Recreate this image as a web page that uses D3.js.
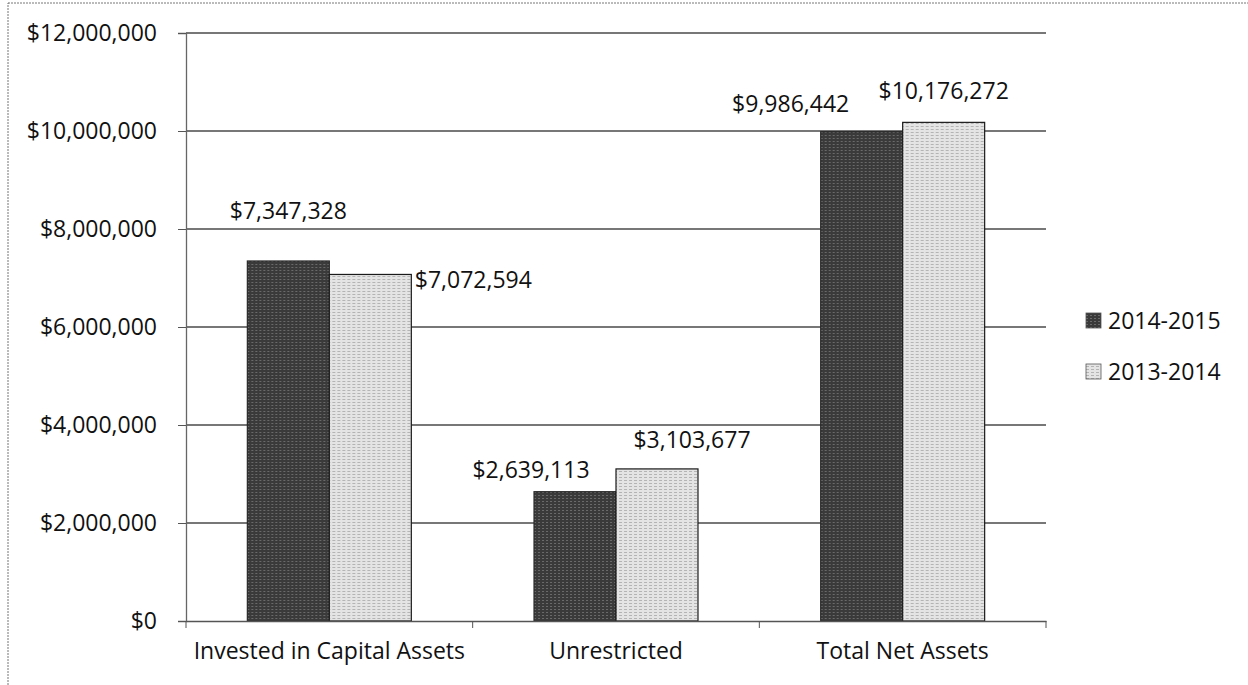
<!DOCTYPE html>
<html>
<head>
<meta charset="utf-8">
<script src="https://cdn.jsdelivr.net/npm/d3@7"></script>
<style>
  body { margin: 0; background: #fff; }
  svg text { font-family: "Open Sans", "Noto Sans", sans-serif; fill: #111; }
</style>
</head>
<body>
<div id="chart"></div>
<script>
// data
var categories = ["Invested in Capital Assets", "Unrestricted", "Total Net Assets"];
var seriesNames = ["2014-2015", "2013-2014"];
var values2014_2015 = [7347328, 2639113, 9986442];
var values2013_2014 = [7072594, 3103677, 10176272];
var yTicks = [0, 2000000, 4000000, 6000000, 8000000, 10000000, 12000000];

// hand-moved data labels in the original (offset from default spot above the bar)
var labelNudge2014_2015 = [[0, -34], [-44, -6], [-71, -12]];
var labelNudge2013_2014 = [[103, 22], [35, -13], [0, -15]];

var width = 1248, height = 685;
var margin = { top: 33, right: 202, bottom: 64, left: 186 };

var seriesColors = { "2014-2015": "#3d3d3d", "2013-2014": "#dadada" };
var seriesStroke = { "2014-2015": "#2a2a2a", "2013-2014": "#1a1a1a" };

var svg = d3.select("#chart").append("svg")
  .attr("width", width)
  .attr("height", height);

// texture patterns to mimic the scanned fills
var defs = svg.append("defs");
var darkPat = defs.append("pattern").attr("id", "darkFill").attr("patternUnits", "userSpaceOnUse")
  .attr("width", 4).attr("height", 3);
darkPat.append("rect").attr("width", 4).attr("height", 3).attr("fill", "#3a3a3a");
darkPat.append("rect").attr("width", 2).attr("height", 1).attr("fill", "#6a6a6a");
var lightPat = defs.append("pattern").attr("id", "lightFill").attr("patternUnits", "userSpaceOnUse")
  .attr("width", 5).attr("height", 3);
lightPat.append("rect").attr("width", 5).attr("height", 3).attr("fill", "#e4e4e4");
lightPat.append("rect").attr("width", 3).attr("height", 1).attr("fill", "#b4b4b4");
var fillFor = { "2014-2015": "url(#darkFill)", "2013-2014": "url(#lightFill)" };

// chart area border (dotted, as in the scan)
svg.append("rect")
  .attr("x", 8).attr("y", 3)
  .attr("width", width + 20).attr("height", height + 20)
  .attr("fill", "none")
  .attr("stroke", "#777")
  .attr("stroke-width", 1)
  .attr("stroke-dasharray", "2,1");

var plotW = width - margin.left - margin.right;
var plotH = height - margin.top - margin.bottom;

var x0 = d3.scaleBand().domain(categories).range([margin.left, margin.left + plotW])
  .paddingInner(0.428).paddingOuter(0.214);
var x1 = d3.scaleBand().domain(seriesNames).range([0, x0.bandwidth()]);
var y = d3.scaleLinear().domain([0, 12000000]).range([margin.top + plotH, margin.top]);

var fmt = function (v) { return "$" + d3.format(",")(v); };

// gridlines
svg.append("g").selectAll("line").data(yTicks.slice(1)).enter().append("line")
  .attr("x1", margin.left).attr("x2", margin.left + plotW)
  .attr("y1", function (d) { return y(d); }).attr("y2", function (d) { return y(d); })
  .attr("stroke", "#4a4a4a").attr("stroke-width", 1.3);

// y axis
var leftAxis = d3.axisLeft(y).tickValues(yTicks).tickFormat(fmt).tickSize(8).tickPadding(21);
var gy = svg.append("g").attr("transform", "translate(" + margin.left + ",0)").call(leftAxis);
gy.select(".domain").attr("stroke", "#666").attr("stroke-width", 1.3);
gy.selectAll(".tick line").attr("stroke", "#555");
gy.selectAll(".tick text").attr("font-size", 23).attr("fill", "#111")
  .attr("font-family", "Open Sans, Noto Sans, sans-serif");

// bars
var rows = categories.map(function (c, i) {
  return { cat: c, vals: [
    { s: "2014-2015", v: values2014_2015[i], nudge: labelNudge2014_2015[i] },
    { s: "2013-2014", v: values2013_2014[i], nudge: labelNudge2013_2014[i] }
  ] };
});

var groups = svg.append("g").selectAll("g").data(rows).enter().append("g")
  .attr("transform", function (d) { return "translate(" + x0(d.cat) + ",0)"; });

groups.selectAll("rect").data(function (d) { return d.vals; }).enter().append("rect")
  .attr("x", function (d) { return x1(d.s); })
  .attr("y", function (d) { return y(d.v); })
  .attr("width", x1.bandwidth())
  .attr("height", function (d) { return y(0) - y(d.v); })
  .attr("fill", function (d) { return fillFor[d.s]; })
  .attr("stroke", function (d) { return seriesStroke[d.s]; })
  .attr("stroke-width", 1.2);

// data labels
groups.selectAll("text.val").data(function (d) { return d.vals; }).enter().append("text")
  .attr("class", "val")
  .attr("x", function (d) { return x1(d.s) + x1.bandwidth() / 2 + d.nudge[0]; })
  .attr("y", function (d) { return y(d.v) - 8 + d.nudge[1]; })
  .attr("text-anchor", "middle")
  .attr("font-size", 23)
  .text(function (d) { return fmt(d.v); });

// x axis
var bottomAxis = d3.axisBottom(x0).tickSize(0).tickPadding(22);
var gx = svg.append("g").attr("transform", "translate(0," + y(0) + ")").call(bottomAxis);
gx.select(".domain").attr("stroke", "#555").attr("stroke-width", 1.3);
gx.selectAll(".tick text").attr("font-size", 23).attr("fill", "#111")
  .attr("font-family", "Open Sans, Noto Sans, sans-serif");

// category boundary ticks
var step = x0.step();
svg.append("g").selectAll("line").data(d3.range(categories.length + 1)).enter().append("line")
  .attr("x1", function (i) { return margin.left + i * step; })
  .attr("x2", function (i) { return margin.left + i * step; })
  .attr("y1", y(0)).attr("y2", y(0) + 7)
  .attr("stroke", "#555");

// legend
var legend = svg.append("g").selectAll("g").data(seriesNames).enter().append("g")
  .attr("transform", function (d, i) { return "translate(1086," + (321 + i * 51) + ")"; });
legend.append("rect")
  .attr("x", 0).attr("y", -8).attr("width", 15).attr("height", 15)
  .attr("fill", function (d) { return fillFor[d]; })
  .attr("stroke", "#555").attr("stroke-width", 0.8);
legend.append("text")
  .attr("x", 22).attr("y", 0).attr("dy", "0.35em")
  .attr("font-size", 23)
  .text(function (d) { return d; });
</script>
</body>
</html>
